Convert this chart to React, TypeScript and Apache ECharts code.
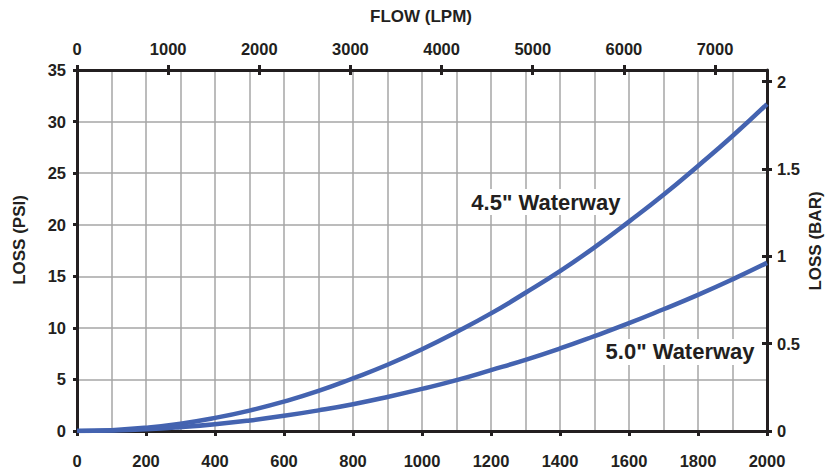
import React, { useEffect, useRef } from "react";
import * as echarts from "echarts";

const flowGpm = [0, 100, 200, 300, 400, 500, 600, 700, 800, 900, 1000, 1100, 1200, 1300, 1400, 1500, 1600, 1700, 1800, 1900, 2000];
const loss45 = [0, 0.08, 0.32, 0.71, 1.27, 1.98, 2.85, 3.88, 5.1, 6.42, 7.92, 9.6, 11.4, 13.4, 15.5, 17.8, 20.3, 22.9, 25.7, 28.6, 31.7];
const loss50 = [0, 0.04, 0.16, 0.37, 0.65, 1.02, 1.47, 2.0, 2.6, 3.3, 4.08, 4.93, 5.9, 6.9, 8.0, 9.2, 10.45, 11.8, 13.2, 14.7, 16.3];
const seriesNames = ['4.5" Waterway', '5.0" Waterway'];
const topAxisTitle = "FLOW (LPM)";
const leftAxisTitle = "LOSS (PSI)";
const rightAxisTitle = "LOSS (BAR)";

const INK = "#231f20";
const BLUE = "#4463b0";
const GRID = "#a6a6a6";
const FONT = "Liberation Sans, Arial, sans-serif";

export default function App() {
  const ref = useRef<HTMLDivElement>(null);
  useEffect(() => {
    if (!ref.current) return;
    const chart = echarts.init(ref.current, undefined, { renderer: "svg" });
    const labelStyle = { color: INK, fontFamily: FONT, fontWeight: "bold" as const, fontSize: 16.5 };
    const line = { show: true, onZero: false, lineStyle: { color: INK, width: 3 } };
    const plain = (v: number) => String(v);
    chart.setOption({
      animation: false,
      backgroundColor: "#fff",
      grid: { left: 77, right: 63, top: 70, bottom: 37, containLabel: false },
      xAxis: [
        {
          type: "value", position: "bottom", min: 0, max: 2000, interval: 200,
          axisLine: line,
          axisTick: { show: true, length: 5, lineStyle: { color: INK, width: 3 } },
          axisLabel: { ...labelStyle, margin: 21, formatter: plain },
          splitLine: { show: true, lineStyle: { color: GRID, width: 1.5 } },
          minorTick: { show: false, splitNumber: 2 },
          minorSplitLine: { show: true, lineStyle: { color: GRID, width: 1.5 } },
        },
        {
          type: "value", position: "top", min: 0, max: 7570, interval: 1000,
          axisLine: line,
          axisTick: { show: true, length: 5, lineStyle: { color: INK, width: 3 } },
          axisLabel: { ...labelStyle, margin: 13, showMaxLabel: false, formatter: plain },
          splitLine: { show: false },
        },
        {
          type: "value", position: "top", min: 0, max: 7570, interval: 1000,
          axisLine: { show: false, onZero: false },
          axisTick: { show: true, inside: true, length: 5, lineStyle: { color: INK, width: 3 } },
          axisLabel: { show: false },
          splitLine: { show: false },
        },
      ],
      yAxis: [
        {
          type: "value", position: "left", min: 0, max: 35, interval: 5,
          axisLine: line,
          axisTick: { show: true, length: 4, lineStyle: { color: INK, width: 3 } },
          axisLabel: { ...labelStyle, margin: 11 },
          splitLine: { show: true, lineStyle: { color: GRID, width: 1.5 } },
        },
        {
          type: "value", position: "right", min: 0, max: 2.066, interval: 0.5,
          axisLine: line,
          axisTick: { show: true, length: 5, lineStyle: { color: INK, width: 3 } },
          axisLabel: { ...labelStyle, margin: 10, showMaxLabel: false, formatter: plain },
          splitLine: { show: false },
        },
        {
          type: "value", position: "right", min: 0, max: 2.066, interval: 0.5,
          axisLine: { show: false, onZero: false },
          axisTick: { show: true, inside: true, length: 5, lineStyle: { color: INK, width: 3 } },
          axisLabel: { show: false },
          splitLine: { show: false },
        },
      ],
      graphic: [
        { type: "text", x: 421, y: 16, style: { text: topAxisTitle, fill: INK, font: `bold 17px ${FONT}`, textAlign: "center", textVerticalAlign: "middle" } },
        { type: "text", x: 19, y: 240, rotation: Math.PI / 2, style: { text: leftAxisTitle, fill: INK, font: `bold 17px ${FONT}`, textAlign: "center", textVerticalAlign: "middle" } },
        { type: "text", x: 815, y: 241, rotation: Math.PI / 2, style: { text: rightAxisTitle, fill: INK, font: `bold 17px ${FONT}`, textAlign: "center", textVerticalAlign: "middle" } },
      ],
      series: [
        {
          name: seriesNames[0], type: "line", xAxisIndex: 0, yAxisIndex: 0,
          data: flowGpm.map((x, i) => [x, loss45[i]]), smooth: true, showSymbol: false,
          lineStyle: { color: BLUE, width: 4.5 }, z: 3,
          markPoint: {
            symbol: "rect", symbolSize: [160, 26], silent: true,
            itemStyle: { color: "#fff" },
            label: { show: true, formatter: seriesNames[0], color: INK, fontFamily: FONT, fontWeight: "bold", fontSize: 22 },
            data: [{ coord: [1359, 22.2] }],
          },
        },
        {
          name: seriesNames[1], type: "line", xAxisIndex: 0, yAxisIndex: 0,
          data: flowGpm.map((x, i) => [x, loss50[i]]), smooth: true, showSymbol: false,
          lineStyle: { color: BLUE, width: 4.5 }, z: 3,
          markPoint: {
            symbol: "rect", symbolSize: [162, 26], silent: true,
            itemStyle: { color: "#fff" },
            label: { show: true, formatter: seriesNames[1], color: INK, fontFamily: FONT, fontWeight: "bold", fontSize: 22 },
            data: [{ coord: [1748, 7.67] }],
          },
        },
      ],
    });
    return () => chart.dispose();
  }, []);
  return <div ref={ref} style={{ width: 830, height: 469, position: "absolute", left: 0, top: 0 }} />;
}
